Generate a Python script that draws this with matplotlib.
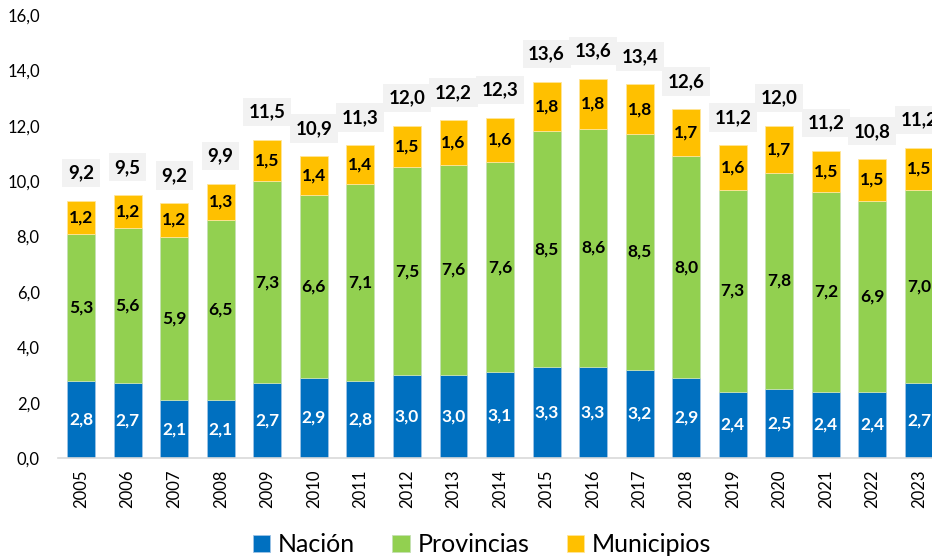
import numpy as np
import matplotlib
matplotlib.use("Agg")
import matplotlib.pyplot as plt

plt.rcParams['font.family'] = ['Lato', 'DejaVu Sans']

# datos (% del PIB)
anios = ['2005', '2006', '2007', '2008', '2009', '2010', '2011', '2012', '2013', '2014',
         '2015', '2016', '2017', '2018', '2019', '2020', '2021', '2022', '2023']
nacion = [2.8, 2.7, 2.1, 2.1, 2.7, 2.9, 2.8, 3.0, 3.0, 3.1, 3.3, 3.3, 3.2, 2.9, 2.4, 2.5, 2.4, 2.4, 2.7]
provincias = [5.3, 5.6, 5.9, 6.5, 7.3, 6.6, 7.1, 7.5, 7.6, 7.6, 8.5, 8.6, 8.5, 8.0, 7.3, 7.8, 7.2, 6.9, 7.0]
municipios = [1.2, 1.2, 1.2, 1.3, 1.5, 1.4, 1.4, 1.5, 1.6, 1.6, 1.8, 1.8, 1.8, 1.7, 1.6, 1.7, 1.5, 1.5, 1.5]
total = [9.2, 9.5, 9.2, 9.9, 11.5, 10.9, 11.3, 12.0, 12.2, 12.3, 13.6, 13.6, 13.4, 12.6, 11.2, 12.0, 11.2, 10.8, 11.2]

c_nac = '#0070C0'
c_prov = '#92D050'
c_mun = '#FFC000'

def fmt(v):
    return ('%.1f' % v).replace('.', ',')

fig = plt.figure(figsize=(9.32, 5.58), dpi=100)
ax = fig.add_axes([0.062, 0.179, 0.949, 0.794])

x = np.arange(len(anios))
w = 0.6
nac = np.array(nacion)
prov = np.array(provincias)
mun = np.array(municipios)

b1 = ax.bar(x, nac, w, color=c_nac, edgecolor='#9DC3E6', linewidth=0.6, label='Nación')
b2 = ax.bar(x, prov, w, bottom=nac, color=c_prov, edgecolor='#C5E0B4', linewidth=0.6, label='Provincias')
b3 = ax.bar(x, mun, w, bottom=nac + prov, color=c_mun, edgecolor='#FFE699', linewidth=0.6, label='Municipios')

for i in range(len(anios)):
    ax.text(x[i], nac[i] / 2, fmt(nac[i]), ha='center', va='center', color='white',
            fontsize=12.5, fontweight='bold')
    ax.text(x[i], nac[i] + prov[i] / 2, fmt(prov[i]), ha='center', va='center', color='black',
            fontsize=12.5, fontweight='bold')
    ax.text(x[i], nac[i] + prov[i] + mun[i] / 2, fmt(mun[i]), ha='center', va='center', color='black',
            fontsize=12.5, fontweight='bold')
    top = nac[i] + prov[i] + mun[i]
    ax.annotate(fmt(total[i]), (x[i], top), xytext=(0, 20), textcoords='offset points',
                ha='center', va='center', fontsize=13.5, fontweight='bold', color='black',
                bbox=dict(boxstyle='square,pad=0.3', fc='#F2F2F2', ec='none'))

ax.set_xlim(-0.5, len(anios) - 0.5)
ax.set_ylim(0, 16)
ax.set_yticks(np.arange(0, 17, 2))
ax.set_yticklabels([fmt(v) for v in np.arange(0, 17, 2)], fontsize=12)
ax.set_xticks(x)
ax.set_xticklabels(anios, rotation=90, fontsize=12)
ax.tick_params(axis='both', length=0)
ax.tick_params(axis='x', pad=8)
ax.tick_params(axis='y', pad=13)

for s in ['top', 'right', 'left']:
    ax.spines[s].set_visible(False)
ax.spines['bottom'].set_color('#D9D9D9')
ax.spines['bottom'].set_linewidth(1.2)

fig.legend(handles=[b1, b2, b3], loc='center', bbox_to_anchor=(0.517, 0.024), ncol=3,
           frameon=False, fontsize=18, handlelength=0.7, handleheight=0.7,
           handletextpad=0.3, columnspacing=1.5, borderaxespad=0)

fig.savefig('out.png', dpi=100)
